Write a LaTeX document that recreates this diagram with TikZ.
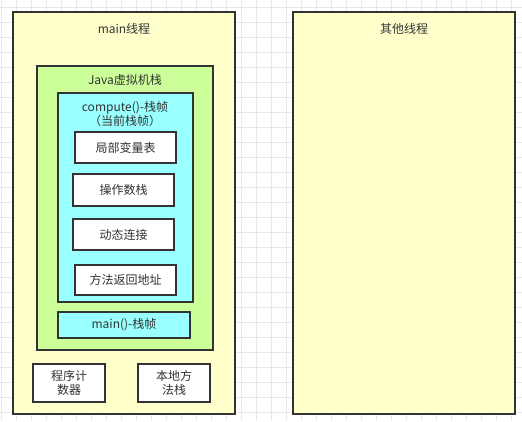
\documentclass[tikz,border=0pt]{standalone}
\usepackage{fontspec}
\setmainfont{Noto Sans CJK SC}
\definecolor{bx}{HTML}{333333}
\definecolor{yel}{HTML}{FFFFCC}
\definecolor{grn}{HTML}{CCFF99}
\definecolor{cyn}{HTML}{99FFFF}
\definecolor{gridc}{HTML}{E8E8E8}
\begin{document}
\begin{tikzpicture}[x=1pt,y=-1pt,
  boxst/.style={draw=bx,line width=2pt},
  lbl/.style={text=bx,font=\fontsize{12}{14}\selectfont,align=center,inner sep=0pt},
  cell/.style={boxst,fill=white}]
\useasboundingbox (0,0) rectangle (522,421);
\fill[white] (0,0) rectangle (522,421);
\foreach \i in {0,...,34} {\draw[gridc,line width=1pt] ({1.7+15*\i},0) -- ({1.7+15*\i},421);}
\foreach \j in {0,...,28} {\draw[gridc,line width=1pt] (0,{7.3+15*\j}) -- (522,{7.3+15*\j});}
% threads
\draw[boxst,fill=yel] (13,12) rectangle (235,414);
\node[lbl] (mainlbl) at (124,29) {main线程};
\draw[boxst,fill=yel] (293,12) rectangle (515,414);
\node[lbl] (otherlbl) at (404,29) {其他线程};
% JVM stack
\draw[boxst,fill=grn] (37,66) rectangle (213,350);
\node[lbl] (jvmlbl) at (125,80) {Java虚拟机栈};
% compute frame
\draw[boxst,fill=cyn] (58,93) rectangle (193,302);
\node[lbl] (complbl) at (125,114) {compute()-栈帧\\（当前栈帧）};
\draw[cell] (75,132) rectangle node[lbl] (lv) {局部变量表} (176,163);
\draw[cell] (73,174) rectangle node[lbl] (os) {操作数栈} (174,206);
\draw[cell] (73,219) rectangle node[lbl] (dl) {动态连接} (174,250);
\draw[cell] (75,265) rectangle node[lbl] (ra) {方法返回地址} (176,295);
% main frame
\draw[boxst,fill=cyn] (58,312) rectangle node[lbl] (mf) {main()-栈帧} (190,338);
% pc and native
\draw[cell] (33,364) rectangle node[lbl] (pc) {程序计\\数器} (105,402);
\draw[cell] (138,364) rectangle node[lbl] (ns) {本地方\\法栈} (210,402);
\end{tikzpicture}
\end{document}
